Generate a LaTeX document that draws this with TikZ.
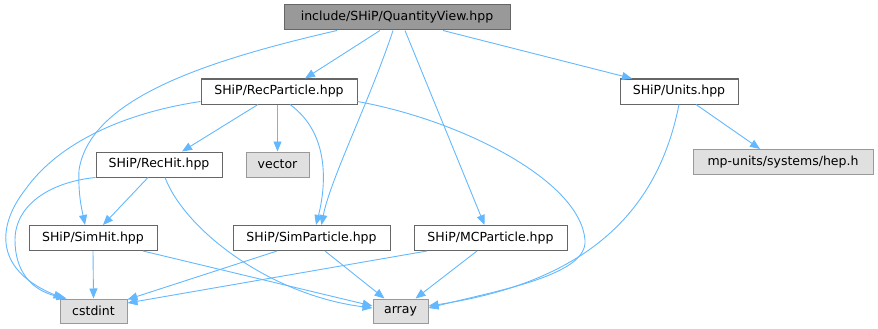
\documentclass[tikz,border=0pt]{standalone}
\usepackage{fontspec}
\setmainfont{DejaVu Sans}
\usetikzlibrary{arrows.meta}
\definecolor{edgeblue}{HTML}{63B8FF}
\definecolor{boxline}{HTML}{666666}
\definecolor{sysline}{HTML}{999999}
\definecolor{sysfill}{HTML}{E0E0E0}
\definecolor{topfill}{HTML}{999999}
\begin{document}
\begin{tikzpicture}[x=1pt,y=-1pt,
  file/.style={draw=boxline,fill=white,line width=1pt,minimum height=25pt,inner sep=0pt,font=\fontsize{12.5pt}{14pt}\selectfont},
  sys/.style={file,draw=sysline,fill=sysfill},
  top/.style={file,fill=topfill},
  inc/.style={edgeblue,line width=0.9pt,-{Triangle[length=10pt,width=8pt]}}]
\useasboundingbox (0,0) rectangle (878,329);
\node[top,minimum width=226pt] (qv) at (397,17.5) {include/SHiP/QuantityView.hpp};
\node[file,minimum width=156pt] (rp) at (279,91.5) {SHiP/RecParticle.hpp};
\node[file,minimum width=118pt] (un) at (679,91.5) {SHiP/Units.hpp};
\node[file,minimum width=126pt] (rh) at (159,164.5) {SHiP/RecHit.hpp};
\node[sys,minimum width=63pt] (vec) at (277.5,164.5) {vector};
\node[sys,minimum width=180pt] (hep) at (783,162) {mp-units/systems/hep.h};
\node[file,minimum width=128pt] (sh) at (93,238) {SHiP/SimHit.hpp};
\node[file,minimum width=157pt] (sp) at (311.5,238) {SHiP/SimParticle.hpp};
\node[file,minimum width=153pt] (mc) at (490.5,238) {SHiP/MCParticle.hpp};
\node[sys,minimum width=67pt,minimum height=24pt] (cs) at (93.5,311) {cstdint};
\node[sys,minimum width=55pt,minimum height=24pt] (ar) at (400.5,311) {array};

\draw[inc] ([xshift=-17pt]qv.south) -- ([xshift=26pt]rp.north);
\draw[inc] ([xshift=-60pt]qv.south) .. controls (200,62) and (90,100) .. (79,170)
  .. controls (78,195) and (82,210) .. ([xshift=-8pt]sh.north);
\draw[inc] ([xshift=-4pt]qv.south) .. controls (370,100) and (330,180) .. ([xshift=10pt]sp.north);
\draw[inc] ([xshift=8pt]qv.south) -- ([xshift=-6pt]mc.north);
\draw[inc] ([xshift=46pt]qv.south) -- ([xshift=-47pt]un.north);
\draw[inc] ([xshift=-21pt]rp.south) -- ([xshift=23pt]rh.north);
\draw[inc] ([xshift=-1.5pt]rp.south) -- (vec.north);
\draw[inc] ([xshift=11pt]rp.south) .. controls (332,135) and (325,190) .. ([xshift=4.5pt]sp.north);
\draw[inc] ([yshift=-10pt]rp.west) .. controls (130,112) and (60,140) .. (25,190)
  .. controls (0,222) and (-10,268) .. ([xshift=4pt]cs.north west);
\draw[inc] ([yshift=-10pt]rp.east) .. controls (460,120) and (580,180) .. (585,240)
  .. controls (588,275) and (500,290) .. ([yshift=3pt]ar.east);
\draw[inc] (un.south) .. controls (660,200) and (600,280) .. ([yshift=5pt]ar.east);
\draw[inc] ([xshift=17pt]un.south) -- ([xshift=-23pt]hep.north);
\draw[inc] (rh.south west) .. controls (50,182) and (15,205) .. (15,240)
  .. controls (15,270) and (30,290) .. ([xshift=7pt]cs.north west);
\draw[inc] ([xshift=-11pt]rh.south) -- ([xshift=10pt]sh.north);
\draw[inc] ([xshift=6pt]rh.south) .. controls (185,230) and (270,295) .. ([yshift=3pt]ar.west);
\draw[inc] (sh.south) -- (cs.north);
\draw[inc] ([xshift=50pt]sh.south) -- ([yshift=5pt]ar.west);
\draw[inc] ([xshift=-34.5pt]sp.south) -- ([yshift=-1pt]cs.north east);
\draw[inc] ([xshift=13.5pt]sp.south) -- ([xshift=-16pt]ar.north);
\draw[inc] ([xshift=-63.5pt]mc.south) -- ([yshift=8pt]cs.east);
\draw[inc] ([xshift=-13.5pt]mc.south) -- ([xshift=15pt]ar.north);
\end{tikzpicture}
\end{document}
